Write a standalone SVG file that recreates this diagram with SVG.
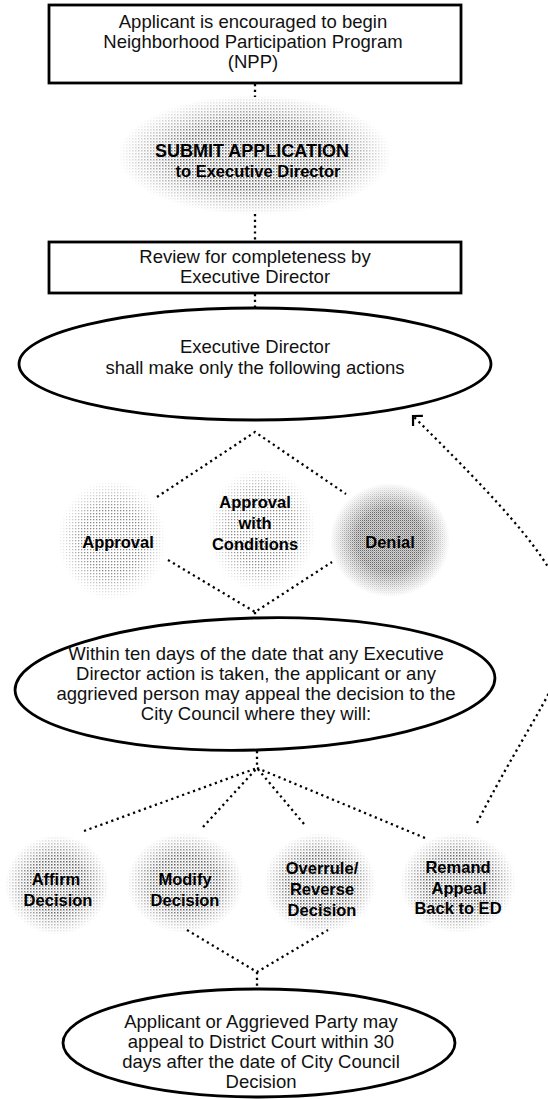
<svg xmlns="http://www.w3.org/2000/svg" width="548" height="1099" viewBox="0 0 548 1099">
<style>
.box{fill:#fff;stroke:#000;stroke-width:2.8}
.ell{fill:#fff;stroke:#000;stroke-width:2.8}
.t{font-family:"Liberation Sans",Arial,sans-serif;font-size:18.5px;fill:#111;text-anchor:middle}
.b{font-family:"Liberation Sans",Arial,sans-serif;font-size:16.5px;font-weight:bold;fill:#000;text-anchor:middle}
.dot{fill:none;stroke:#000;stroke-width:2.3;stroke-dasharray:2.2 3.6}
.blob{fill:url(#dots);mask:url(#fade)}
.blobL{fill:url(#dotsL);mask:url(#fade)}
.blobD{fill:url(#dotsD);mask:url(#fade)}
</style>
<defs>
<pattern id="dots" width="3" height="3" patternUnits="userSpaceOnUse"><rect width="1.5" height="1.5" fill="#666"/><rect x="1.5" y="1.5" width="1" height="1" fill="#aaa"/></pattern>
<pattern id="dotsL" width="3" height="3" patternUnits="userSpaceOnUse"><rect width="1.3" height="1.3" fill="#888"/></pattern>
<pattern id="dotsD" width="2" height="2" patternUnits="userSpaceOnUse"><rect width="1.3" height="1.3" fill="#666"/><rect x="1" y="1" width="1" height="1" fill="#aaa"/></pattern>
<radialGradient id="fg"><stop offset="0.55" stop-color="#fff"/><stop offset="1" stop-color="#000"/></radialGradient>
<mask id="fade" maskContentUnits="objectBoundingBox"><ellipse cx="0.5" cy="0.5" rx="0.5" ry="0.5" fill="url(#fg)"/></mask>
<marker id="arr" markerWidth="24" markerHeight="24" refX="12" refY="12" orient="auto" markerUnits="userSpaceOnUse" viewBox="0 0 24 24"><path d="M5,5 L12,12 L5,19" fill="none" stroke="#000" stroke-width="2.2" stroke-dasharray="none"/></marker>
</defs>

<g id="connectors">
<path class="dot" d="M255,84 L255,97"/>
<path class="dot" d="M255,214 L255,241"/>
<path class="dot" d="M255,294 L255,308"/>
<path class="dot" d="M157,497 L255,432 L346,494"/>
<path class="dot" d="M168,560 L255,612 L332,562"/>
<path class="dot" d="M255,612 L255,620"/>
<path class="dot" d="M257,751 L257,768"/>
<path class="dot" d="M84,831 L257,768"/>
<path class="dot" d="M203,827 L257,768"/>
<path class="dot" d="M304,824 L257,768"/>
<path class="dot" d="M425,838 L257,768"/>
<path class="dot" d="M187,930 L257,972 L328,930"/>
<path class="dot" d="M257,972 L257,988"/>
<path class="dot" d="M477,823 C580,620 640,640 413,416" marker-end="url(#arr)"/>
</g>

<g id="npp">
<rect class="box" x="49" y="5" width="412" height="78"/>
<text class="t" x="253" y="28">Applicant is encouraged to begin</text>
<text class="t" x="253" y="48">Neighborhood Participation Program</text>
<text class="t" x="253" y="68">(NPP)</text>
</g>

<g id="submit">
<ellipse class="blob" cx="255" cy="155" rx="137" ry="60"/>
<text class="b" x="252" y="157" style="font-size:18px">SUBMIT APPLICATION</text>
<text class="b" x="258" y="177" style="font-size:16.5px">to Executive Director</text>
</g>

<g id="review">
<rect class="box" x="49" y="242" width="412" height="51"/>
<text class="t" x="255" y="263">Review for completeness by</text>
<text class="t" x="255" y="283">Executive Director</text>
</g>

<g id="ed">
<ellipse class="ell" cx="255" cy="364" rx="236" ry="56"/>
<text class="t" x="255" y="353">Executive Director</text>
<text class="t" x="255" y="374">shall make only the following actions</text>
</g>

<g id="approval">
<ellipse class="blobL" cx="112" cy="540" rx="54" ry="60"/>
<text class="b" x="118" y="548">Approval</text>
</g>

<g id="approval-conditions">
<ellipse class="blobL" cx="262" cy="530" rx="54" ry="62"/>
<text class="b" x="255" y="508">Approval</text>
<text class="b" x="255" y="529">with</text>
<text class="b" x="255" y="550">Conditions</text>
</g>

<g id="denial">
<ellipse class="blobD" cx="390" cy="540" rx="60" ry="57"/>
<text class="b" x="390" y="548">Denial</text>
</g>

<g id="appeal">
<ellipse class="ell" cx="255" cy="684" rx="240" ry="66" transform="rotate(-1.5 255 684)"/>
<text class="t" x="256" y="660">Within ten days of the date that any Executive</text>
<text class="t" x="256" y="680">Director action is taken, the applicant or any</text>
<text class="t" x="256" y="700">aggrieved person may appeal the decision to the</text>
<text class="t" x="256" y="720">City Council where they will:</text>
</g>

<g id="affirm">
<ellipse class="blob" cx="57" cy="885" rx="52" ry="50"/>
<text class="b" x="56" y="885">Affirm</text>
<text class="b" x="58" y="906">Decision</text>
</g>

<g id="modify">
<ellipse class="blob" cx="185" cy="883" rx="58" ry="50"/>
<text class="b" x="185" y="885">Modify</text>
<text class="b" x="185" y="906">Decision</text>
</g>

<g id="overrule">
<ellipse class="blob" cx="320" cy="883" rx="56" ry="50"/>
<text class="b" x="322" y="874">Overrule/</text>
<text class="b" x="322" y="895">Reverse</text>
<text class="b" x="322" y="916">Decision</text>
</g>

<g id="remand">
<ellipse class="blob" cx="458" cy="883" rx="58" ry="50"/>
<text class="b" x="458" y="873">Remand</text>
<text class="b" x="459" y="894">Appeal</text>
<text class="b" x="458" y="914">Back to ED</text>
</g>

<g id="district">
<ellipse class="ell" cx="259" cy="1043" rx="196" ry="54"/>
<text class="t" x="261" y="1028">Applicant or Aggrieved Party may</text>
<text class="t" x="261" y="1048">appeal to District Court within 30</text>
<text class="t" x="261" y="1068">days after the date of City Council</text>
<text class="t" x="261" y="1088">Decision</text>
</g>
</svg>
